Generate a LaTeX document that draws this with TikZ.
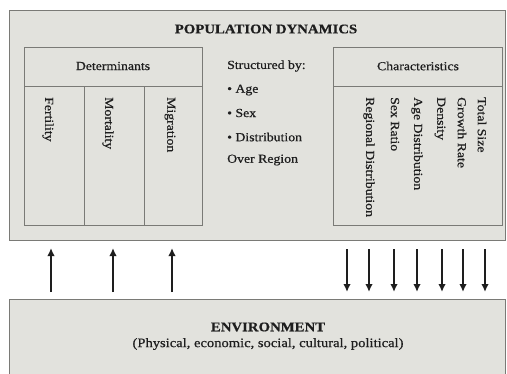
\documentclass[tikz,border=0pt]{standalone}
\usepackage{fontspec}
\setmainfont[FakeStretch=1.12,FakeBold=0.6]{Liberation Serif}
\usetikzlibrary{arrows.meta}
\definecolor{panel}{HTML}{E2E2DD}
\definecolor{rule}{HTML}{7A7A76}
\definecolor{ink}{HTML}{1E1E1E}
\begin{document}
\begin{tikzpicture}[x=1pt,y=1pt,
  box/.style={draw=rule, line width=1pt, inner sep=0, anchor=north west},
  lbl/.style={font=\fontsize{12.3}{14}\selectfont, text=ink, inner sep=0},
  vlbl/.style={lbl, rotate=-90, anchor=west},
  arr/.style={-{Latex[length=8pt,width=7.5pt]}, line width=2pt, draw=ink}]
\useasboundingbox (0,0) rectangle (507,-373);
\fill[white] (0,0) rectangle (507,-373);
% outer panels
\node[box, fill=panel, minimum width=496pt, minimum height=230pt] (dyn) at (9,-10) {};
\node[box, fill=panel, minimum width=496pt, minimum height=80pt] (env) at (9,-299) {};
% inner boxes
\node[box, minimum width=178pt, minimum height=178pt] (det) at (24,-47) {};
\node[box, minimum width=169pt, minimum height=178pt] (cha) at (333,-47) {};
\draw[draw=rule, line width=1pt] (24,-86) -- (202,-86) (84,-86) -- (84,-225) (144,-86) -- (144,-225);
\draw[draw=rule, line width=1pt] (333,-86) -- (502,-86);
% titles
\node[lbl, font=\fontsize{13.2}{15}\selectfont\bfseries] (t1) at (266,-29) {POPULATION DYNAMICS};
\node[lbl] (t2) at (113,-66) {Determinants};
\node[lbl] (t3) at (418,-66) {Characteristics};
% determinants
\node[vlbl] (fer) at (48,-97) {Fertility};
\node[vlbl] (mor) at (108,-97) {Mortality};
\node[vlbl] (mig) at (170,-97) {Migration};
% structured by
\node[lbl, anchor=west] (s0) at (227,-66) {Structured by:};
\node[lbl, anchor=west] (s1) at (227,-90) {\textbullet\ Age};
\node[lbl, anchor=west] (s2) at (227,-113) {\textbullet\ Sex};
\node[lbl, anchor=west] (s3) at (227,-137) {\textbullet\ Distribution};
\node[lbl, anchor=west] (s4) at (227,-160) {Over Region};
% characteristics
\node[vlbl] (c1) at (482,-97) {Total Size};
\node[vlbl] (c2) at (462,-97) {Growth Rate};
\node[vlbl] (c3) at (440,-97) {Density};
\node[vlbl] (c4) at (417,-97) {Age Distribution};
\node[vlbl] (c5) at (395,-97) {Sex Ratio};
\node[vlbl] (c6) at (369,-97) {Regional Distribution};
% environment
\node[lbl, font=\fontsize{13.2}{15}\selectfont\bfseries] (e1) at (268,-327) {ENVIRONMENT};
\node[lbl, font=\fontsize{13}{15}\selectfont] (e2) at (268,-344) {(Physical, economic, social, cultural, political)};
% arrows
\foreach \i/\x in {1/51,2/113,3/172}{
  \coordinate (ua\i) at (\x,-292);
  \coordinate (ub\i) at (\x,-248);
  \draw[arr] (ua\i) -- (ub\i);
}
\foreach \i/\x in {1/347,2/369,3/394,4/417,5/442,6/463,7/485}{
  \coordinate (da\i) at (\x,-249);
  \coordinate (db\i) at (\x,-292);
  \draw[arr] (da\i) -- (db\i);
}
\end{tikzpicture}
\end{document}
